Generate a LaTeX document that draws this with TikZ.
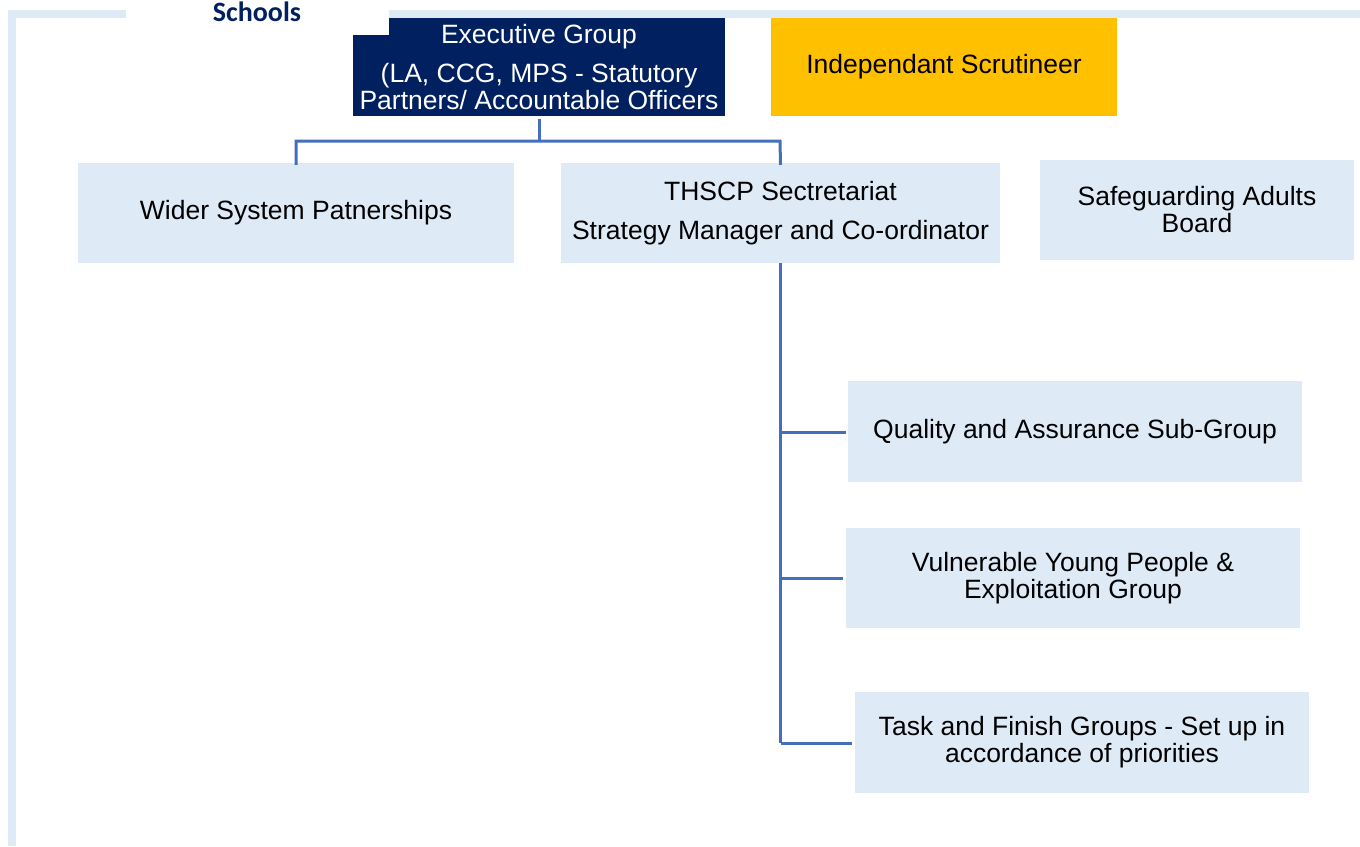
\documentclass[tikz,border=0pt]{standalone}
\usepackage{fontspec}
\setmainfont{Liberation Sans}
\newfontfamily\schoolsfont{Carlito}
\definecolor{navy}{RGB}{0,32,96}
\definecolor{paleblue}{RGB}{222,234,246}
\definecolor{gold}{RGB}{255,192,0}
\definecolor{linkblue}{RGB}{68,110,190}
\tikzset{
  box/.style={rectangle, fill=paleblue, inner sep=0pt, align=center,
    font=\fontsize{26.5}{27}\selectfont, text=black},
  link/.style={draw=linkblue, line width=3pt},
}
\begin{document}
\begin{tikzpicture}[x=1pt,y=-1pt]
\useasboundingbox (0,0) rectangle (1360,846);
\fill[white] (0,0) rectangle (1360,846);
% light frame
\fill[paleblue] (8,10) rectangle (1360,18);
\fill[paleblue] (8,10) rectangle (16,846);
% executive group
\node[box, fill=navy, text=white, minimum width=372pt, minimum height=98pt]
  (exec) at (539,67) {Executive Group\\[12pt](LA, CCG, MPS - Statutory\\Partners/ Accountable Officers};
% schools label
\fill[white] (126,0) rectangle (389,35);
\node[font=\schoolsfont\bfseries\fontsize{28}{28}\selectfont, text=navy, inner sep=0pt]
  (schools) at (257,12) {Schools};
\node[box, fill=gold, minimum width=346pt, minimum height=98pt]
  (scrut) at (944,67) {Independant Scrutineer};
\node[box, minimum width=436pt, minimum height=100pt]
  (wider) at (296,213) {Wider System Patnerships};
\node[box, minimum width=439pt, minimum height=100pt]
  (thscp) at (780.5,213) {THSCP Sectretariat\\[12pt]Strategy Manager and Co-ordinator};
\node[box, minimum width=314pt, minimum height=100pt]
  (sab) at (1197,210) {Safeguarding Adults\\Board};
\node[box, minimum width=454pt, minimum height=101pt]
  (qa) at (1075,431.5) {Quality and Assurance Sub-Group};
\node[box, minimum width=454pt, minimum height=100pt]
  (vyp) at (1073,578) {Vulnerable Young People \&\\Exploitation Group};
\node[box, minimum width=454pt, minimum height=101pt]
  (tfg) at (1082,742.5) {Task and Finish Groups - Set up in\\accordance of priorities};
% connectors
\coordinate (bus) at (539,141);
\draw[link] ([yshift=-3pt]exec.south) -- (bus);
\draw[link] ([yshift=-2pt]wider.north) -- (296,141) -- (780,141) -- ([yshift=-2pt]thscp.north);
\coordinate (spineend) at (780.5,743);
\draw[link] (thscp.south) -- (spineend);
\draw[link] (780.5,432) -- ([xshift=-2pt]qa.west |- 0,432);
\draw[link] (780.5,578) -- ([xshift=-3pt]vyp.west |- 0,578);
\draw[link] (spineend) -- ([xshift=-3pt]tfg.west |- 0,743);
\end{tikzpicture}
\end{document}
